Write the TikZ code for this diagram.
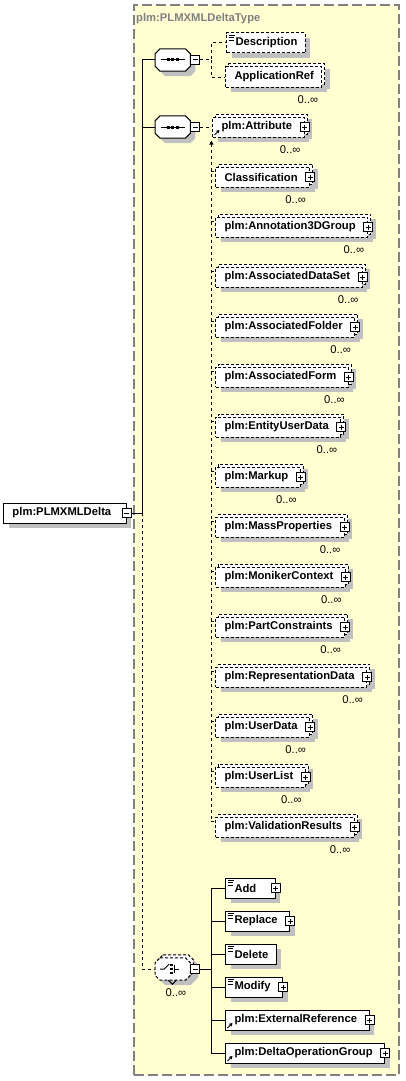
\documentclass[tikz,border=0pt]{standalone}
\usepackage{fontspec}
\setmainfont{Liberation Sans}
\usetikzlibrary{positioning,arrows.meta,fit,backgrounds}
\definecolor{ctfill}{RGB}{255,255,210}
\definecolor{ctline}{RGB}{128,128,128}
\definecolor{shadecol}{RGB}{192,192,192}
\definecolor{inkcol}{RGB}{0,0,0}
% octagon outline round a node
\newcommand{\octo}[1]{([xshift=5pt]#1.north west) -- ([xshift=-5pt]#1.north east)
  -- ([yshift=-5pt]#1.north east) -- ([yshift=5pt]#1.south east)
  -- ([xshift=-5pt]#1.south east) -- ([xshift=5pt]#1.south west)
  -- ([yshift=5pt]#1.south west) -- ([yshift=-5pt]#1.north west) -- cycle}

\begin{document}
\begin{tikzpicture}[
  x=1pt, y=-1pt,
  font=\fontsize{11.25pt}{13pt}\selectfont\bfseries,
  >={Triangle[length=4pt, width=4pt]},
  conn/.style={draw=inkcol, line width=1pt},
  dashline/.style={conn, dash pattern=on 3pt off 3pt},
  ctframe/.style={draw=ctline, fill=ctfill, line width=1.2pt,
                  dash pattern=on 10pt off 4pt, inner sep=0pt},
  ttl/.style={text=ctline, inner sep=0pt},
  mult/.style={font=\fontsize{11.25pt}{13pt}\selectfont\mdseries, inner sep=0pt, text=inkcol},
  box/.style={draw=inkcol, fill=white, line width=1pt, minimum height=20pt,
              inner xsep=0pt, inner ysep=0pt, text=inkcol,
              execute at begin node={\hspace*{9pt}}},
  elem/.style={box, execute at end node={\hspace*{12pt}}},
  leafelem/.style={box, execute at end node={\hspace*{8pt}}},
  opt/.style={dash pattern=on 3pt off 2pt},
  shad/.style={preaction={fill=shadecol, draw=none,
               transform canvas={xshift=5pt, yshift=-5pt}}},
  stacked/.style={
    preaction={fill=shadecol, draw=none, transform canvas={xshift=8pt, yshift=-2pt}},
    preaction={fill=white, draw=inkcol, line width=1pt, dash pattern=on 3pt off 2pt,
               transform canvas={xshift=3pt, yshift=3pt}},
    append after command={\pgfextra{\draw[conn]
      ([xshift=-#1]\tikzlastnode.south east) -- ++(4pt,-4pt) -- ++(4pt,4pt);}}},
  stacked/.default=14pt,
  pm/.style={draw=inkcol, fill=white, line width=1pt, minimum size=9pt, inner sep=0pt},
  plusbox/.style={pm, path picture={
    \draw[inkcol, line width=1pt]
      ([xshift=2pt]path picture bounding box.west) -- ([xshift=-2pt]path picture bounding box.east)
      ([yshift=2pt]path picture bounding box.south) -- ([yshift=-2pt]path picture bounding box.north);}},
  minusbox/.style={pm, path picture={
    \draw[inkcol, line width=1pt]
      ([xshift=2pt]path picture bounding box.west) -- ([xshift=-2pt]path picture bounding box.east);}},
  docicon/.style={path picture={
    \draw[solid, inkcol, line width=0.8pt]
      ([xshift=2pt, yshift=-2pt]path picture bounding box.north west) -- ++(6pt,0pt)
      ([xshift=2pt, yshift=-4.5pt]path picture bounding box.north west) -- ++(5pt,0pt)
      ([xshift=2pt, yshift=-7pt]path picture bounding box.north west) -- ++(5pt,0pt);}},
  reficon/.style={path picture={
    \draw[solid, inkcol, line width=1pt, -{Triangle[length=3pt, width=3.5pt]}]
      ([xshift=2pt, yshift=2pt]path picture bounding box.south west) -- ++(5pt,5pt);}},
  octo/.style={minimum width=35pt, minimum height=22pt, inner sep=0pt},
  seqc/.style={octo, append after command={\pgfextra{
    \fill[shadecol, transform canvas={xshift=5pt, yshift=-5pt}] \octo{\tikzlastnode};
    \filldraw[fill=white, draw=inkcol, line width=1pt] \octo{\tikzlastnode};
    \begin{scope}[shift={(\tikzlastnode.center)}]
      \draw[inkcol, line width=1pt] (-12,0) -- (12,0);
      \fill[inkcol] (-6,-1.5) rectangle ++(3,3);
      \fill[inkcol] (-1.5,-1.5) rectangle ++(3,3);
      \fill[inkcol] (3,-1.5) rectangle ++(3,3);
    \end{scope}}}},
  chc/.style={octo, append after command={\pgfextra{
    \fill[shadecol, transform canvas={xshift=8pt, yshift=-2pt}] \octo{\tikzlastnode};
    \fill[shadecol, transform canvas={xshift=5pt, yshift=-5pt}] \octo{\tikzlastnode};
    \filldraw[fill=white, draw=inkcol, line width=1pt, dash pattern=on 3pt off 2pt,
              transform canvas={xshift=3pt, yshift=3pt}] \octo{\tikzlastnode};
    \filldraw[fill=white, draw=inkcol, line width=1pt, dash pattern=on 3pt off 2pt] \octo{\tikzlastnode};
    \draw[conn] ([xshift=-22pt]\tikzlastnode.south east) -- ++(4pt,-4pt) -- ++(4pt,4pt);
    \begin{scope}[shift={(\tikzlastnode.center)}]
      \draw[inkcol, line width=1pt] (-12.5,0) -- (-8.5,0) -- (-3.5,-5);
      \fill[inkcol] (-2.4,-5.4) rectangle ++(2.8,2.8);
      \fill[inkcol] (-2.4,-1.4) rectangle ++(2.8,2.8);
      \fill[inkcol] (-2.4,2.6) rectangle ++(2.8,2.8);
      \draw[inkcol, line width=1pt] (1.5,-4) -- (1.5,4) (1.5,0) -- (6.5,0);
    \end{scope}}}},
]
\useasboundingbox (0,0) rectangle (405,1081);

% ---------- complex type frame ----------
\coordinate (ctnw) at (134,5);
\coordinate (ctse) at (399,1075);
\begin{scope}[on background layer]
  \node[ctframe, fit=(ctnw)(ctse)] (ctype) {};
\end{scope}
\node[ttl, anchor=west] (ctname) at (136,19) {plm:PLMXMLDeltaType};

% ---------- root element ----------
\node[box, shad, anchor=west, execute at end node={\hspace*{15pt}}] (root) at (3,513) {plm:PLMXMLDelta};
\node[minusbox] (rootm) at (root.east) {};
\coordinate (rootj) at ([xshift=10.5pt]rootm.east);

% ---------- compositors ----------
\node[seqc, anchor=west] (seqa) at (155,60) {};
\node[minusbox, right=0pt of seqa] (seqam) {};
\node[seqc, anchor=west] (seqb) at (155,127) {};
\node[minusbox, right=0pt of seqb] (seqbm) {};
\node[chc, anchor=west] (ch) at (155,969) {};
\node[minusbox, right=0pt of ch] (chm) {};
\node[mult, below left=8pt and 4pt of ch.south east] (chmul) {0..∞};
\coordinate (seqaj) at ([xshift=11pt]seqam.east);
\coordinate (seqbj) at ([xshift=11pt]seqbm.east);
\coordinate (chj) at ([xshift=11pt]chm.east);

\draw[conn] (rootm.east) -- (rootj) |- (seqa.west);
\draw[conn] (rootj) |- (seqb.west);
\draw[dashline] (rootj) |- (ch.west);

% ---------- first sequence ----------
\node[leafelem, opt, shad, docicon, anchor=west] (desc) at (226,43) {Description};
\node[leafelem, opt, shad, stacked, anchor=west] (appref) at (225,77) {ApplicationRef};
\node[mult, below left=8pt and 4pt of appref.south east] (apprefmul) {0..∞};
\draw[dashline] (seqam.east) -- (seqaj) |- (desc.west);
\draw[dashline] (seqaj) |- (appref.west);

% ---------- second sequence ----------
\node[elem, opt, shad, stacked, reficon, anchor=west] (attr) at (212,127) {plm:Attribute};
\node[plusbox] (attrp) at (attr.east) {};
\node[mult, below left=8pt and 4pt of attr.south east] (attrmul) {0..∞};
\node[elem, opt, shad, stacked, below=29pt of attr.south west, anchor=north west, xshift=3pt] (cls) {Classification};
\node[plusbox] (clsp) at (cls.east) {};
\node[mult, below left=8pt and 4pt of cls.south east] (clsmul) {0..∞};
\node[elem, opt, shad, stacked, below=29pt of cls.south west, anchor=north west] (annot) {plm:Annotation3DGroup};
\node[plusbox] (annotp) at (annot.east) {};
\node[mult, below left=8pt and 4pt of annot.south east] (annotmul) {0..∞};
\node[elem, opt, shad, stacked, below=29pt of annot.south west, anchor=north west] (adset) {plm:AssociatedDataSet};
\node[plusbox] (adsetp) at (adset.east) {};
\node[mult, below left=8pt and 4pt of adset.south east] (adsetmul) {0..∞};
\node[elem, opt, shad, stacked, below=29pt of adset.south west, anchor=north west] (afold) {plm:AssociatedFolder};
\node[plusbox] (afoldp) at (afold.east) {};
\node[mult, below left=8pt and 4pt of afold.south east] (afoldmul) {0..∞};
\node[elem, opt, shad, stacked, below=29pt of afold.south west, anchor=north west] (aform) {plm:AssociatedForm};
\node[plusbox] (aformp) at (aform.east) {};
\node[mult, below left=8pt and 4pt of aform.south east] (aformmul) {0..∞};
\node[elem, opt, shad, stacked, below=29pt of aform.south west, anchor=north west] (eud) {plm:EntityUserData};
\node[plusbox] (eudp) at (eud.east) {};
\node[mult, below left=8pt and 4pt of eud.south east] (eudmul) {0..∞};
\node[elem, opt, shad, stacked, below=29pt of eud.south west, anchor=north west] (mkp) {plm:Markup};
\node[plusbox] (mkpp) at (mkp.east) {};
\node[mult, below left=8pt and 4pt of mkp.south east] (mkpmul) {0..∞};
\node[elem, opt, shad, stacked, below=29pt of mkp.south west, anchor=north west] (mprop) {plm:MassProperties};
\node[plusbox] (mpropp) at (mprop.east) {};
\node[mult, below left=8pt and 4pt of mprop.south east] (mpropmul) {0..∞};
\node[elem, opt, shad, stacked, below=29pt of mprop.south west, anchor=north west] (mctx) {plm:MonikerContext};
\node[plusbox] (mctxp) at (mctx.east) {};
\node[mult, below left=8pt and 4pt of mctx.south east] (mctxmul) {0..∞};
\node[elem, opt, shad, stacked, below=29pt of mctx.south west, anchor=north west] (pcon) {plm:PartConstraints};
\node[plusbox] (pconp) at (pcon.east) {};
\node[mult, below left=8pt and 4pt of pcon.south east] (pconmul) {0..∞};
\node[elem, opt, shad, stacked, below=29pt of pcon.south west, anchor=north west] (rdata) {plm:RepresentationData};
\node[plusbox] (rdatap) at (rdata.east) {};
\node[mult, below left=8pt and 4pt of rdata.south east] (rdatamul) {0..∞};
\node[elem, opt, shad, stacked, below=29pt of rdata.south west, anchor=north west] (udata) {plm:UserData};
\node[plusbox] (udatap) at (udata.east) {};
\node[mult, below left=8pt and 4pt of udata.south east] (udatamul) {0..∞};
\node[elem, opt, shad, stacked, below=29pt of udata.south west, anchor=north west] (ulist) {plm:UserList};
\node[plusbox] (ulistp) at (ulist.east) {};
\node[mult, below left=8pt and 4pt of ulist.south east] (ulistmul) {0..∞};
\node[elem, opt, shad, stacked, below=29pt of ulist.south west, anchor=north west] (valid) {plm:ValidationResults};
\node[plusbox] (validp) at (valid.east) {};
\node[mult, below left=8pt and 4pt of valid.south east] (validmul) {0..∞};

\draw[dashline] (seqbm.east) -- (attr.west);
\draw[dashline, <-] ([yshift=-3pt]seqbj |- attr.south) -- ([yshift=-5pt]seqbj |- valid.north);
\draw[dashline] ([yshift=-5pt]seqbj |- cls.north) -- ([yshift=-5pt]cls.north west);
\draw[dashline] ([yshift=-5pt]seqbj |- annot.north) -- ([yshift=-5pt]annot.north west);
\draw[dashline] ([yshift=-5pt]seqbj |- adset.north) -- ([yshift=-5pt]adset.north west);
\draw[dashline] ([yshift=-5pt]seqbj |- afold.north) -- ([yshift=-5pt]afold.north west);
\draw[dashline] ([yshift=-5pt]seqbj |- aform.north) -- ([yshift=-5pt]aform.north west);
\draw[dashline] ([yshift=-5pt]seqbj |- eud.north) -- ([yshift=-5pt]eud.north west);
\draw[dashline] ([yshift=-5pt]seqbj |- mkp.north) -- ([yshift=-5pt]mkp.north west);
\draw[dashline] ([yshift=-5pt]seqbj |- mprop.north) -- ([yshift=-5pt]mprop.north west);
\draw[dashline] ([yshift=-5pt]seqbj |- mctx.north) -- ([yshift=-5pt]mctx.north west);
\draw[dashline] ([yshift=-5pt]seqbj |- pcon.north) -- ([yshift=-5pt]pcon.north west);
\draw[dashline] ([yshift=-5pt]seqbj |- rdata.north) -- ([yshift=-5pt]rdata.north west);
\draw[dashline] ([yshift=-5pt]seqbj |- udata.north) -- ([yshift=-5pt]udata.north west);
\draw[dashline] ([yshift=-5pt]seqbj |- ulist.north) -- ([yshift=-5pt]ulist.north west);
\draw[dashline] ([yshift=-5pt]seqbj |- valid.north) -- ([yshift=-5pt]valid.north west);

% ---------- choice ----------
\node[elem, shad, docicon, anchor=west] (add) at (225,888) {Add\hspace*{7pt}};
\node[plusbox] (addp) at (add.east) {};
\node[elem, shad, docicon, below=12pt of add.south west, anchor=north west] (repl) {Replace};
\node[plusbox] (replp) at (repl.east) {};
\node[leafelem, shad, docicon, below=12pt of repl.south west, anchor=north west] (del) {Delete};
\node[elem, shad, docicon, below=12pt of del.south west, anchor=north west] (modi) {Modify};
\node[plusbox] (modip) at (modi.east) {};
\node[elem, shad, reficon, below=12pt of modi.south west, anchor=north west] (extref) {plm:ExternalReference};
\node[plusbox] (extrefp) at (extref.east) {};
\node[elem, shad, reficon, below=12pt of extref.south west, anchor=north west] (dog) {plm:DeltaOperationGroup};
\node[plusbox] (dogp) at (dog.east) {};

\draw[conn] (chm.east) -- (chj) |- (add.west);
\draw[conn] (chj) |- (repl.west);  \draw[conn] (chj) |- (del.west);
\draw[conn] (chj) |- (modi.west);  \draw[conn] (chj) |- (extref.west);
\draw[conn] (chj) |- (dog.west);

\end{tikzpicture}
\end{document}
